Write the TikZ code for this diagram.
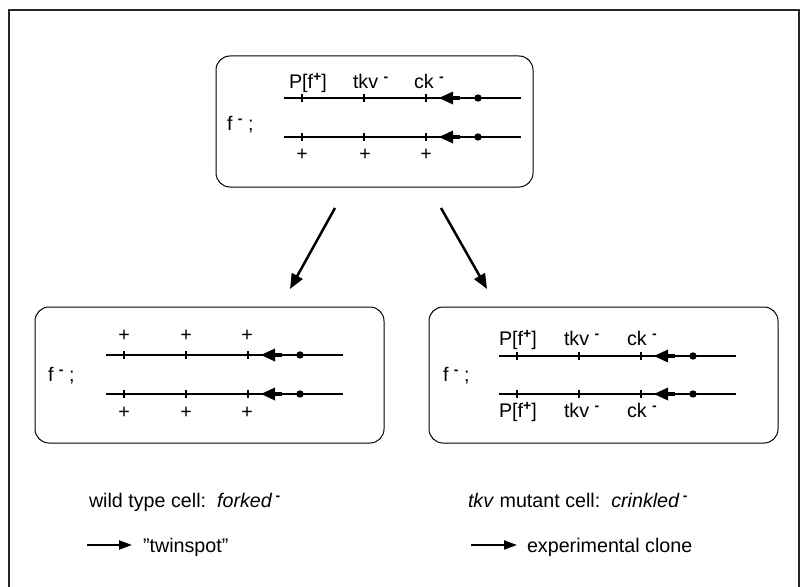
\documentclass[tikz,border=0pt]{standalone}
\usepackage{fontspec}
\setmainfont{Liberation Sans}
\usetikzlibrary{arrows.meta}
\newcommand\supmark[1]{\raisebox{6.5pt}{\fontsize{14}{14}\selectfont\bfseries #1}}
\begin{document}
\begin{tikzpicture}[x=1pt,y=-1pt,
  every node/.style={inner sep=0pt, outer sep=0pt, font=\fontsize{19.7}{23}\selectfont},
  lbl/.style={anchor=base west},
  cellbox/.style={draw, line width=1pt, rounded corners=14pt},
  bigarrow/.style={line width=2.5pt, -{Triangle[length=15pt,width=12pt]}},
  legarrow/.style={line width=2pt, -{Triangle[length=13pt,width=9pt]}},
  chromo/.pic={
    \draw[line width=2pt] (0,0) -- (237,0);
    \foreach \t in {18,80,142} \draw[line width=1.5pt] (\t,-4) -- (\t,4);
    \fill (155,0) -- (169,-6.5) -- (169,6.5) -- cycle;
    \fill (168,-2) rectangle (176,2);
    \fill (194,0) circle (3.7pt);
  }
]
\useasboundingbox (0,0) rectangle (802,586);
% outer frame
\draw[line width=1.5pt, black!85] (9,600) -- (9,10) -- (799,10) -- (799,600);

% boxes
\node[cellbox, minimum width=317pt, minimum height=131pt] (topbox) at (374.5,121.5) {};
\node[cellbox, minimum width=349pt, minimum height=136pt] (blbox) at (209.5,375) {};
\node[cellbox, minimum width=349pt, minimum height=136pt] (brbox) at (603.5,375) {};

% top box
\pic at (284,98) {chromo};
\pic at (284,137) {chromo};
\node[lbl] (t1) at (289,88) {P[f\supmark{+}]};
\node[lbl] (t2) at (353,88) {tkv \supmark{-}};
\node[lbl] (t3) at (414,88) {ck \supmark{-}};
\node (tp1) at (302,155) {+};
\node (tp2) at (365,155) {+};
\node (tp3) at (426,155) {+};
\node[lbl] (tf) at (227,130) {f \supmark{-} ;};

% bottom left box
\pic at (106,355) {chromo};
\pic at (106,394) {chromo};
\node (lp1) at (124,336) {+};
\node (lp2) at (186,336) {+};
\node (lp3) at (247,336) {+};
\node (lp4) at (124,413) {+};
\node (lp5) at (186,413) {+};
\node (lp6) at (247,413) {+};
\node[lbl] (lf) at (48,381) {f \supmark{-} ;};

% bottom right box
\pic at (499,356) {chromo};
\pic at (499,394) {chromo};
\node[lbl] (r1) at (499,345) {P[f\supmark{+}]};
\node[lbl] (r2) at (564,345) {tkv \supmark{-}};
\node[lbl] (r3) at (627,345) {ck \supmark{-}};
\node[lbl] (r4) at (499,417) {P[f\supmark{+}]};
\node[lbl] (r5) at (564,417) {tkv \supmark{-}};
\node[lbl] (r6) at (627,417) {ck \supmark{-}};
\node[lbl] (rf) at (443,381) {f \supmark{-} ;};

% transition arrows
\coordinate (a1s) at (335,208);
\coordinate (a1e) at (290,289);
\coordinate (a2s) at (441,208);
\coordinate (a2e) at (487,289);
\draw[bigarrow] (a1s) -- (a1e);
\draw[bigarrow] (a2s) -- (a2e);

% legend
\node[lbl] (lg1) at (89,507) {wild type cell:\ \ \textit{forked}\,\supmark{-}};
\node[lbl] (lg2) at (468,507) {\textit{tkv} mutant cell:\ \ \textit{crinkled}\,\supmark{-}};
\node[lbl] (lg3) at (143,552) {"twinspot"};
\node[lbl] (lg4) at (527,552) {experimental clone};
\coordinate (la1s) at (87,545);
\coordinate (la1e) at (132,545);
\coordinate (la2s) at (471,545);
\coordinate (la2e) at (517,545);
\draw[legarrow] (la1s) -- (la1e);
\draw[legarrow] (la2s) -- (la2e);
\end{tikzpicture}
\end{document}
